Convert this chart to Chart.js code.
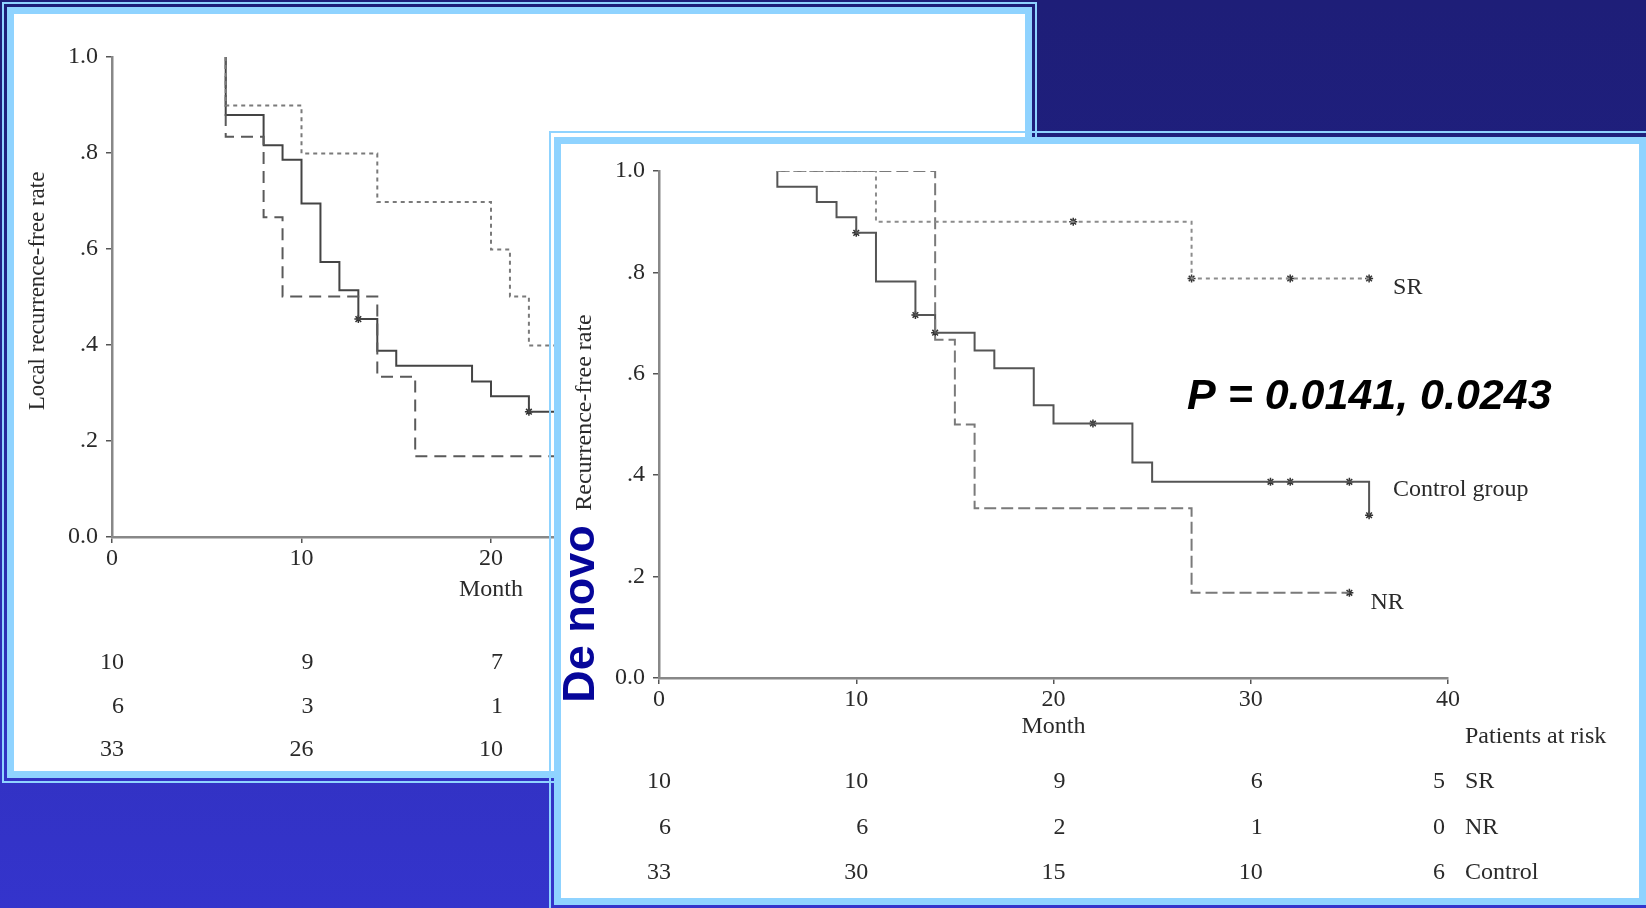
<!DOCTYPE html>
<html lang="en">
<head>
  <meta charset="UTF-8">
  <title>Recurrence-free rate</title>
  <script src="https://cdn.jsdelivr.net/npm/chart.js"></script>
  <style>
    body {
      margin: 0;
      width: 1646px;
      height: 908px;
      overflow: hidden;
      position: relative;
      background: linear-gradient(180deg, #1e1e78 0%, #1f1f7e 22%, #2a2aa8 60%, #3232c4 85%, #3434cc 100%);
    }
    .frame {
      position: absolute;
      box-sizing: border-box;
      border: 2px solid #8fd3ff;
    }
    .panel {
      position: absolute;
      box-sizing: border-box;
      border: 7px solid #8fd3ff;
      background: #fff;
    }
    canvas { position: absolute; }
  </style>
</head>
<body>
  <div class="frame" style="left:2px; top:2px; width:1035px; height:781px;"></div>
  <div class="panel" style="left:7px; top:7px; width:1025px; height:771px;"></div>
  <canvas id="leftChart" width="1010" height="756" style="left:14px; top:14px;"></canvas>

  <div class="frame" style="left:549px; top:131px; width:1102px; height:782px;"></div>
  <div class="panel" style="left:554px; top:137px; width:1092px; height:768px;"></div>
  <canvas id="rightChart" width="1078" height="754" style="left:561px; top:144px;"></canvas>

  <script>
    // ---- data: back chart (local recurrence) ----
    const leftSolidT = [6, 6, 8, 9, 10, 11, 12, 13, 14, 15, 19, 20, 22, 25];
    const leftSolidS = [1.0, 0.879, 0.816, 0.786, 0.695, 0.573, 0.514, 0.454, 0.388, 0.357, 0.324, 0.293, 0.261, 0.261];
    const leftDashT = [6, 6, 8, 9, 14, 16, 25];
    const leftDashS = [1.0, 0.834, 0.666, 0.501, 0.334, 0.168, 0.168];
    const leftDotT = [6, 6, 10, 14, 20, 21, 22, 25];
    const leftDotS = [1.0, 0.899, 0.799, 0.698, 0.599, 0.501, 0.399, 0.399];
    const leftCensorT = [13, 22];
    const leftCensorS = [0.454, 0.261];
    const leftRisk = [[10, 9, 7], [6, 3, 1], [33, 26, 10]];

    // ---- data: front chart (de novo) ----
    const ctrlT = [6, 6, 8, 9, 10, 11, 13, 14, 16, 17, 19, 20, 24, 25, 36];
    const ctrlS = [1.0, 0.969, 0.939, 0.909, 0.878, 0.782, 0.716, 0.681, 0.646, 0.611, 0.538, 0.502, 0.425, 0.387, 0.321];
    const ctrlCensorT = [10, 13, 14, 22, 31, 32, 35, 36];
    const ctrlCensorS = [0.878, 0.716, 0.681, 0.502, 0.387, 0.387, 0.387, 0.321];
    const srT = [6, 11, 27, 36];
    const srS = [1.0, 0.9, 0.788, 0.788];
    const srCensorT = [21, 27, 32, 36];
    const srCensorS = [0.9, 0.788, 0.788, 0.788];
    const nrT = [6, 14, 15, 16, 27, 35];
    const nrS = [1.0, 0.667, 0.5, 0.335, 0.168, 0.168];
    const nrCensorT = [35];
    const nrCensorS = [0.168];

    const riskMonths = [0, 10, 20, 30, 40];
    const riskSR = [10, 10, 9, 6, 5];
    const riskNR = [6, 6, 2, 1, 0];
    const riskCtrl = [33, 30, 15, 10, 6];
    const riskNames = ['SR', 'NR', 'Control'];

    const yTickLabels = ['0.0', '.2', '.4', '.6', '.8', '1.0'];
    const xTicks = [0, 10, 20, 30, 40];

    const serif = '"Liberation Serif", "Times New Roman", serif';
    const sans = '"Liberation Sans", Arial, sans-serif';

    function pts(t, s) { return t.map((v, i) => ({ x: v, y: s[i] })); }

    // KM curves: hold the level, then drop at the event time
    function curve(t, s, color, dash) {
      return {
        data: pts(t, s), borderColor: color, borderWidth: 2, borderDash: dash,
        stepped: 'before', pointRadius: 0, fill: false
      };
    }
    function marks(t, s) {
      return {
        data: pts(t, s), showLine: false, pointStyle: 'star', pointRadius: 4,
        borderColor: '#333', borderWidth: 1.5
      };
    }

    function scales() {
      const tickFont = { family: serif, size: 24 };
      return {
        x: {
          type: 'linear', min: 0, max: 40,
          afterBuildTicks: s => { s.ticks = xTicks.map(v => ({ value: v })); },
          afterFit: s => { s.height = 60; },
          ticks: { font: tickFont, color: '#2a2a2a', padding: 1 },
          grid: { drawOnChartArea: false, drawTicks: true, tickLength: 6, color: '#555', lineWidth: 1.5 },
          border: { color: '#888', width: 2.5 }
        },
        y: {
          min: 0, max: 1,
          ticks: { stepSize: 0.2, font: tickFont, color: '#2a2a2a', padding: 8,
                   callback: v => yTickLabels[Math.round(v * 5)] },
          afterFit: s => { s.width = 60; },
          grid: { drawOnChartArea: false, drawTicks: true, tickLength: 6, color: '#555', lineWidth: 1.5 },
          border: { color: '#888', width: 2.5 }
        }
      };
    }

    // axis titles + patients-at-risk rows
    const kmText = {
      id: 'kmText',
      afterDraw(chart, args, o) {
        const { ctx, chartArea: a } = chart;
        const x = chart.scales.x;
        ctx.save();
        ctx.fillStyle = '#2a2a2a';
        ctx.font = '24px ' + serif;
        ctx.textBaseline = 'middle';
        ctx.textAlign = 'center';
        ctx.fillText('Month', x.getPixelForValue(20), a.bottom + o.monthDy);

        ctx.save();
        ctx.font = o.titleSize + 'px ' + serif;
        ctx.translate(a.left - 74, (a.top + a.bottom) / 2 + o.titleDy);
        ctx.rotate(-Math.PI / 2);
        ctx.fillText(o.yTitle, 0, 0);
        ctx.restore();

        ctx.textAlign = 'right';
        o.risk.forEach((row, r) => {
          row.forEach((n, i) => {
            const m = riskMonths[i];
            const px = x.getPixelForValue(m) + (m === 40 ? -3 : 12);
            ctx.fillText(String(n), px, a.bottom + o.riskDy[r]);
          });
        });
        ctx.restore();
      }
    };

    // labels that only the front chart has
    const frontText = {
      id: 'frontText',
      afterDraw(chart) {
        const { ctx, chartArea: a } = chart;
        const x = chart.scales.x, y = chart.scales.y;
        ctx.save();
        ctx.fillStyle = '#2a2a2a';
        ctx.font = '24px ' + serif;
        ctx.textBaseline = 'middle';
        ctx.textAlign = 'left';
        const lx = x.getPixelForValue(40) + 17;
        ctx.fillText('Patients at risk', lx, a.bottom + 59);
        riskNames.forEach((name, r) => ctx.fillText(name, lx, a.bottom + [104, 150, 195][r]));

        const ends = [
          ['SR', srCensorT, srCensorS, 24, 9],
          ['Control group', ctrlCensorT, ctrlCensorS, 24, -24],
          ['NR', nrCensorT, nrCensorS, 21, 10]
        ];
        ends.forEach(([name, t, s, dx, dy]) => {
          const k = t.length - 1;
          const py = name === 'Control group' ? y.getPixelForValue(ctrlS[ctrlS.length - 2]) + 8
                                                : y.getPixelForValue(s[k]) + dy;
          ctx.fillText(name, x.getPixelForValue(t[k]) + dx, py);
        });

        ctx.fillStyle = '#000';
        ctx.font = 'italic bold 43px ' + sans;
        ctx.textBaseline = 'alphabetic';
        ctx.fillText('P = 0.0141, 0.0243', 626, 265);

        ctx.fillStyle = '#06069a';
        ctx.font = 'bold 45px ' + sans;
        ctx.textAlign = 'center';
        ctx.textBaseline = 'middle';
        ctx.translate(21, 470);
        ctx.rotate(-Math.PI / 2);
        ctx.fillText('De novo', 0, 0);
        ctx.restore();
      }
    };

    new Chart(document.getElementById('leftChart'), {
      type: 'line',
      data: {
        datasets: [
          curve(leftDotT, leftDotS, '#7a7a7a', [4, 4]),
          curve(leftDashT, leftDashS, '#5a5a5a', [12, 7]),
          curve(leftSolidT, leftSolidS, '#444', []),
          marks(leftCensorT, leftCensorS)
        ]
      },
      options: {
        responsive: false, animation: false,
        layout: { padding: { left: 38, right: 154, top: 43, bottom: 173 } },
        scales: scales(),
        plugins: {
          legend: { display: false }, tooltip: { enabled: false },
          kmText: { yTitle: 'Local recurrence-free rate', titleSize: 23, titleDy: -6,
                    monthDy: 53, riskDy: [126, 170, 213], risk: leftRisk }
        }
      },
      plugins: [kmText]
    });

    new Chart(document.getElementById('rightChart'), {
      type: 'line',
      data: {
        datasets: [
          curve(srT, srS, '#8c8c8c', [4, 4]),
          curve(nrT, nrS, '#7a7a7a', [12, 5]),
          curve(ctrlT, ctrlS, '#555', []),
          marks(srCensorT, srCensorS),
          marks(nrCensorT, nrCensorS),
          marks(ctrlCensorT, ctrlCensorS)
        ]
      },
      options: {
        responsive: false, animation: false,
        layout: { padding: { left: 38, right: 191, top: 27, bottom: 160 } },
        scales: scales(),
        plugins: {
          legend: { display: false }, tooltip: { enabled: false },
          kmText: { yTitle: 'Recurrence-free rate', titleSize: 24, titleDy: -12,
                    monthDy: 49, riskDy: [104, 150, 195], risk: [riskSR, riskNR, riskCtrl] }
        }
      },
      plugins: [kmText, frontText]
    });
  </script>
</body>
</html>
